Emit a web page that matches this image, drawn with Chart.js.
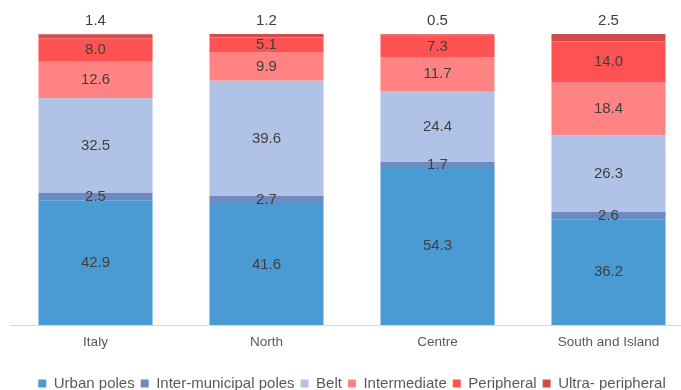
<!DOCTYPE html>
<html>
<head>
<meta charset="utf-8">
<title>Municipalities by area type</title>
<script src="https://cdn.jsdelivr.net/npm/chart.js@4.4.0/dist/chart.umd.min.js"></script>
<style>
  html, body { margin: 0; padding: 0; background: #fff; }
  #wrap { width: 681px; height: 390px; overflow: hidden; }
</style>
</head>
<body>
<div id="wrap"><canvas id="areaChart" width="700" height="401"></canvas></div>
<script>
const regions = ['Italy', 'North', 'Centre', 'South and Island'];

const urbanPoles = [42.9, 41.6, 54.3, 36.2];
const interMunicipal = [2.5, 2.7, 1.7, 2.6];
const belt = [32.5, 39.6, 24.4, 26.3];
const intermediate = [12.6, 9.9, 11.7, 18.4];
const peripheral = [8.0, 5.1, 7.3, 14.0];
const ultraPeripheral = [1.4, 1.2, 0.5, 2.5];

const seriesNames = ['Urban poles', 'Inter-municipal poles', 'Belt', 'Intermediate', 'Peripheral', 'Ultra- peripheral'];
const seriesValues = [urbanPoles, interMunicipal, belt, intermediate, peripheral, ultraPeripheral];
const seriesColors = ['#4a9bd4', '#6c8bc1', '#b0c3e6', '#ff8383', '#ff5353', '#d54b4b'];

const FONT = 'Arial, "Liberation Sans", sans-serif';

// value labels: centred in each segment, the last series sits above the bar
const valueLabels = {
    id: 'valueLabels',
    afterDatasetsDraw(chart) {
        const ctx = chart.ctx;
        ctx.save();
        ctx.font = '15px ' + FONT;
        ctx.fillStyle = '#404040';
        ctx.textAlign = 'center';
        ctx.textBaseline = 'middle';
        const last = chart.data.datasets.length - 1;
        chart.data.datasets.forEach((ds, i) => {
            const meta = chart.getDatasetMeta(i);
            meta.data.forEach((bar, j) => {
                const v = ds.data[j];
                const y = i === last ? bar.y - 13 : (bar.y + bar.base) / 2;
                ctx.fillText(v.toFixed(1), bar.x, y);
            });
        });
        ctx.restore();
    }
};

new Chart(document.getElementById('areaChart'), {
    type: 'bar',
    data: {
        labels: regions,
        datasets: seriesNames.map((name, i) => ({
            label: name,
            data: seriesValues[i],
            backgroundColor: seriesColors[i],
            borderWidth: 0,
            categoryPercentage: 1,
            barPercentage: 0.667,
        })),
    },
    options: {
        responsive: false,
        animation: false,
        devicePixelRatio: 1,
        layout: { padding: { top: 34, left: 10, right: 6, bottom: 0 } },
        plugins: {
            legend: {
                position: 'bottom',
                labels: {
                    boxWidth: 8,
                    boxHeight: 8,
                    padding: 6,
                    color: '#595959',
                    font: { family: FONT, size: 15 },
                },
            },
            tooltip: { enabled: false },
        },
        scales: {
            x: {
                stacked: true,
                grid: { display: false, drawTicks: false },
                border: { display: true, color: '#d9d9d9', width: 1 },
                ticks: { color: '#595959', padding: 9, font: { family: FONT, size: 13.5 } },
                afterFit(scale) { scale.height = 45; },
            },
            y: {
                stacked: true,
                display: false,
                min: 0,
                max: 100,
            },
        },
    },
    plugins: [valueLabels],
});
</script>
</body>
</html>
